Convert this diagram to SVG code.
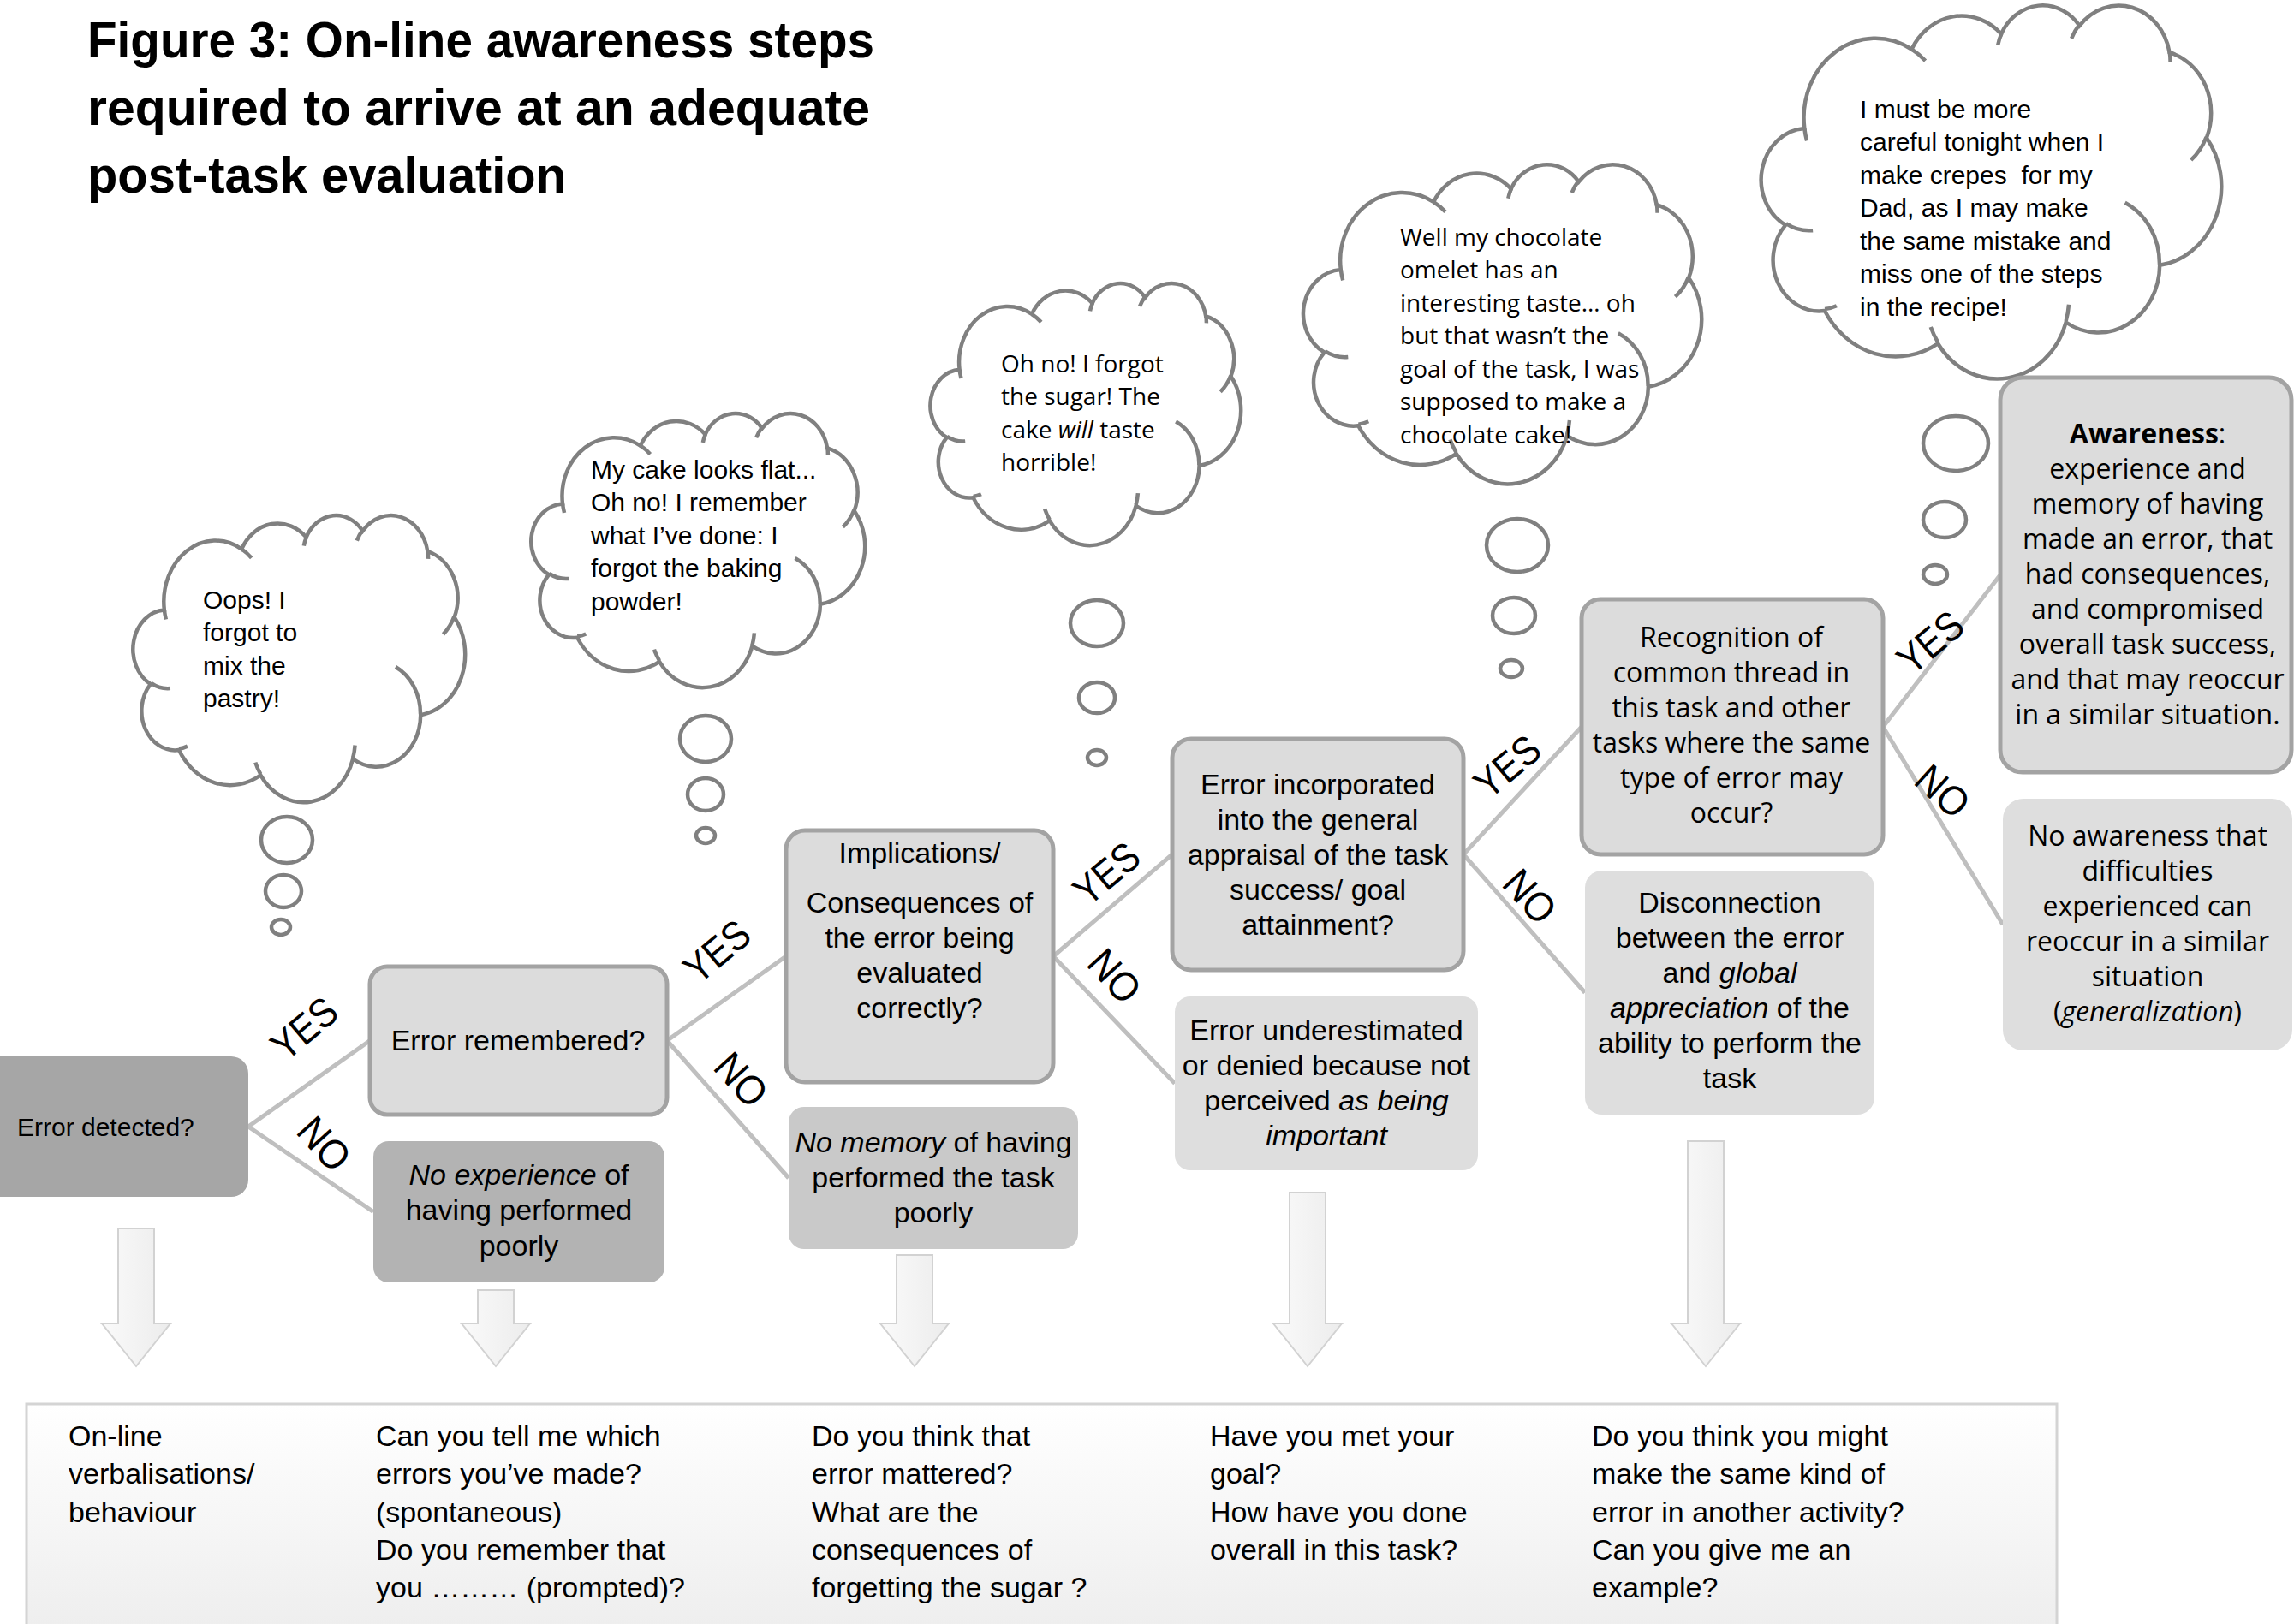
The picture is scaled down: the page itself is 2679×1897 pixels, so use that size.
<svg xmlns="http://www.w3.org/2000/svg" xmlns:xlink="http://www.w3.org/1999/xlink" width="2679" height="1897" viewBox="0 0 2679 1897">
<defs>
<style>
.t{font-family:"Liberation Sans",Arial,sans-serif;font-size:34px;fill:#000;text-anchor:middle}
.w{font-family:"Open Sans","Liberation Sans",sans-serif;font-size:32px;fill:#000;text-anchor:middle}
.q{font-family:"Liberation Sans",Arial,sans-serif;font-size:34px;fill:#000}
.cl{font-family:"Liberation Sans",Arial,sans-serif;font-size:30px;fill:#000}
.cw{font-family:"Open Sans","Liberation Sans",sans-serif;font-size:28px;fill:#000}
.lbl{font-family:"Liberation Sans",Arial,sans-serif;font-size:48px;fill:#000;text-anchor:middle}
.ttl{font-family:"Liberation Sans",Arial,sans-serif;font-size:60px;font-weight:bold;fill:#000}
.it{font-style:italic}
.b{font-weight:bold}
.n1{fill:#dcdcdc;stroke:#a3a3a3;stroke-width:5}
.n2{fill:#dedede}
.cloud{fill:#fff;stroke:#808080;stroke-width:4.5;vector-effect:non-scaling-stroke}
.stub{fill:none;stroke:#808080;stroke-width:4.5;vector-effect:non-scaling-stroke}
.bub{fill:#fff;stroke:#808080;stroke-width:4.5}
.con{stroke:#bfbfbf;stroke-width:5;fill:none}
.arr{fill:url(#ag);stroke:#d2d2d2;stroke-width:2}
</style>
<linearGradient id="ag" x1="0" y1="0" x2="1" y2="0">
<stop offset="0" stop-color="#fafafa"/><stop offset="1" stop-color="#ececec"/>
</linearGradient>
<linearGradient id="bg" x1="0" y1="0" x2="0" y2="1">
<stop offset="0" stop-color="#ffffff"/><stop offset="1" stop-color="#ececec"/>
</linearGradient>
<path id="cloudShape" class="cloud" d="M9.03 33.26 A15.63 21.27 0 0 1 32.42 12.04 A12.34 16.82 0 0 1 51.98 7.94 A10.1 13.76 0 0 1 69.06 5.74 A11.24 15.27 0 0 1 88.7 12.9 A12.34 16.84 0 0 1 96.8 35.78 A15.68 21.34 0 0 1 86.58 69.91 A13.39 18.21 0 0 1 66.1 85.21 A15.63 21.33 0 0 1 38.15 90.89 A17.87 24.41 0 0 1 13.44 82.11 A10.09 13.7 0 0 1 4.89 59.14 A10.06 13.76 0 0 1 9.03 33.26 Z"/>
<path id="cloudStubs" class="stub" d="M10.86 60.59 A10.06 13.76 0 0 1 5 58.75 M16.04 80.78 A10.09 13.7 0 0 1 13.47 81.67 M38.14 90.49 A15.63 21.33 0 0 1 36.59 86.45 M66.73 80.44 A15.63 21.33 0 0 1 66.11 84.86 M79 53.13 A13.39 18.21 0 0 1 86.53 69.65 M96.75 35.54 A12.34 16.84 0 0 1 93.4 41.74 M88.71 12.56 A11.24 15.27 0 0 1 88.89 15.49 M67.31 9.15 A11.24 15.27 0 0 1 69.03 5.42 M51.25 10.93 A10.1 13.76 0 0 1 52.08 7.71 M32.41 12.02 A15.63 21.27 0 0 1 35.42 15.14 M9.55 36.55 A15.63 21.27 0 0 1 9.03 33.26"/>
</defs>
<rect width="2679" height="1897" fill="#fff"/>

<g id="title">
<text class="ttl" x="102" y="67" textLength="919" lengthAdjust="spacingAndGlyphs">Figure 3: On-line awareness steps</text>
<text class="ttl" x="102" y="146" textLength="914" lengthAdjust="spacingAndGlyphs">required to arrive at an adequate</text>
<text class="ttl" x="102" y="225" textLength="559" lengthAdjust="spacingAndGlyphs">post-task evaluation</text>
</g>

<g id="clouds">
<g id="cloud1">
<use xlink:href="#cloudShape" transform="translate(157,601) scale(3.86,3.35)"/>
<use xlink:href="#cloudStubs" transform="translate(157,601) scale(3.86,3.35)"/>
<ellipse class="bub" cx="335" cy="981" rx="30" ry="27"/>
<ellipse class="bub" cx="331" cy="1041" rx="21" ry="19"/>
<ellipse class="bub" cx="328" cy="1083" rx="11" ry="9"/>
<text class="cl" x="237" y="711">Oops! I</text>
<text class="cl" x="237" y="749">forgot to</text>
<text class="cl" x="237" y="788">mix the</text>
<text class="cl" x="237" y="826">pastry!</text>
</g>
<g id="cloud2">
<use xlink:href="#cloudShape" transform="translate(622,482) scale(3.88,3.2)"/>
<use xlink:href="#cloudStubs" transform="translate(622,482) scale(3.88,3.2)"/>
<ellipse class="bub" cx="824" cy="863" rx="30" ry="27"/>
<ellipse class="bub" cx="824" cy="928" rx="21" ry="19"/>
<ellipse class="bub" cx="824" cy="976" rx="11" ry="9"/>
<text class="cl" x="690" y="559">My cake looks flat...</text>
<text class="cl" x="690" y="597">Oh no! I remember</text>
<text class="cl" x="690" y="636">what I’ve done: I</text>
<text class="cl" x="690" y="674">forgot the baking</text>
<text class="cl" x="690" y="713">powder!</text>
</g>
<g id="cloud3">
<use xlink:href="#cloudShape" transform="translate(1088,330) scale(3.61,3.06)"/>
<use xlink:href="#cloudStubs" transform="translate(1088,330) scale(3.61,3.06)"/>
<ellipse class="bub" cx="1281" cy="728" rx="31" ry="27"/>
<ellipse class="bub" cx="1281" cy="815" rx="21" ry="18"/>
<ellipse class="bub" cx="1281" cy="885" rx="11" ry="9"/>
<text class="cw" x="1169" y="435">Oh no! I forgot</text>
<text class="cw" x="1169" y="473">the sugar! The</text>
<text class="cw" x="1169" y="512">cake <tspan class="it">will</tspan> taste</text>
<text class="cw" x="1169" y="550">horrible!</text>
</g>
<g id="cloud4">
<use xlink:href="#cloudShape" transform="translate(1524,191) scale(4.63,3.73)"/>
<use xlink:href="#cloudStubs" transform="translate(1524,191) scale(4.63,3.73)"/>
<ellipse class="bub" cx="1772" cy="637" rx="36" ry="31"/>
<ellipse class="bub" cx="1768" cy="719" rx="25" ry="21"/>
<ellipse class="bub" cx="1765" cy="781" rx="13" ry="10"/>
<text class="cw" x="1635" y="287">Well my chocolate</text>
<text class="cw" x="1635" y="325">omelet has an</text>
<text class="cw" x="1635" y="364">interesting taste… oh</text>
<text class="cw" x="1635" y="402">but that wasn’t the</text>
<text class="cw" x="1635" y="441">goal of the task, I was</text>
<text class="cw" x="1635" y="479">supposed to make a</text>
<text class="cw" x="1635" y="518">chocolate cake!</text>
</g>
<g id="cloud5">
<use xlink:href="#cloudShape" transform="translate(2059,5) scale(5.35,4.36)"/>
<use xlink:href="#cloudStubs" transform="translate(2059,5) scale(5.35,4.36)"/>
<ellipse class="bub" cx="2284" cy="518" rx="38" ry="32"/>
<ellipse class="bub" cx="2271" cy="607" rx="25" ry="21"/>
<ellipse class="bub" cx="2260" cy="671" rx="14" ry="11"/>
<text class="cl" x="2172" y="138">I must be more</text>
<text class="cl" x="2172" y="176">careful tonight when I</text>
<text class="cl" x="2172" y="215">make crepes&#160; for my</text>
<text class="cl" x="2172" y="253">Dad, as I may make</text>
<text class="cl" x="2172" y="292">the same mistake and</text>
<text class="cl" x="2172" y="330">miss one of the steps</text>
<text class="cl" x="2172" y="369">in the recipe!</text>
</g>
</g>

<g id="connectors">
<path class="con" d="M290 1316 L432 1215.5 M290 1316 L436 1415.5"/>
<path class="con" d="M779 1215.5 L918 1117 M779 1215.5 L921 1376"/>
<path class="con" d="M1230 1117 L1369 998 M1230 1117 L1372 1265.5"/>
<path class="con" d="M1709 998 L1847 849 M1709 998 L1851 1159.5"/>
<path class="con" d="M2199 849 L2336 671.5 M2199 849 L2339 1080"/>
<g id="labels">
<text class="lbl" transform="translate(355,1201) rotate(-40)" y="17" textLength="84" lengthAdjust="spacingAndGlyphs">YES</text>
<text class="lbl" transform="translate(379,1336) rotate(48)" y="17" textLength="66" lengthAdjust="spacingAndGlyphs">NO</text>
<text class="lbl" transform="translate(837,1111) rotate(-40)" y="17" textLength="84" lengthAdjust="spacingAndGlyphs">YES</text>
<text class="lbl" transform="translate(866,1261) rotate(48)" y="17" textLength="66" lengthAdjust="spacingAndGlyphs">NO</text>
<text class="lbl" transform="translate(1292,1020) rotate(-40)" y="17" textLength="84" lengthAdjust="spacingAndGlyphs">YES</text>
<text class="lbl" transform="translate(1302,1140) rotate(48)" y="17" textLength="66" lengthAdjust="spacingAndGlyphs">NO</text>
<text class="lbl" transform="translate(1760,895) rotate(-40)" y="17" textLength="84" lengthAdjust="spacingAndGlyphs">YES</text>
<text class="lbl" transform="translate(1787,1047) rotate(48)" y="17" textLength="66" lengthAdjust="spacingAndGlyphs">NO</text>
<text class="lbl" transform="translate(2254,750) rotate(-40)" y="17" textLength="84" lengthAdjust="spacingAndGlyphs">YES</text>
<text class="lbl" transform="translate(2269,924) rotate(42)" y="17" textLength="66" lengthAdjust="spacingAndGlyphs">NO</text>
</g>
<g id="arrows">
<path class="arr" d="M138 1435 H180 V1546 H199 L159 1596 L119 1546 H138 Z"/>
<path class="arr" d="M558 1507 H600 V1546 H619 L579 1596 L539 1546 H558 Z"/>
<path class="arr" d="M1047 1466 H1089 V1546 H1108 L1068 1596 L1028 1546 H1047 Z"/>
<path class="arr" d="M1506 1393 H1548 V1546 H1567 L1527 1596 L1487 1546 H1506 Z"/>
<path class="arr" d="M1971 1333 H2013 V1546 H2032 L1992 1596 L1952 1546 H1971 Z"/>
</g>
</g>

<g id="nodeA">
<rect x="-20" y="1234" width="310" height="164" rx="20" fill="#a6a6a6"/>
<text class="t" x="20" y="1327" style="text-anchor:start;font-size:30px">Error detected?</text>
</g>
<g id="nodeB">
<rect class="n1" x="432" y="1129" width="347" height="173" rx="20"/>
<text class="t" x="605" y="1227">Error remembered?</text>
</g>
<g id="nodeC">
<rect x="436" y="1333" width="340" height="165" rx="18" fill="#b3b3b3"/>
<text class="t" x="606" y="1384"><tspan class="it">No experience</tspan> of</text>
<text class="t" x="606" y="1425">having performed</text>
<text class="t" x="606" y="1467">poorly</text>
</g>
<g id="nodeD">
<rect class="n1" x="918" y="970" width="312" height="294" rx="22"/>
<text class="t" x="1074" y="1008">Implications/</text>
<text class="t" x="1074" y="1066">Consequences of</text>
<text class="t" x="1074" y="1107">the error being</text>
<text class="t" x="1074" y="1148">evaluated</text>
<text class="t" x="1074" y="1189">correctly?</text>
</g>
<g id="nodeE">
<rect x="921" y="1293" width="338" height="166" rx="18" fill="#c9c9c9"/>
<text class="t" x="1090" y="1346"><tspan class="it">No memory</tspan> of having</text>
<text class="t" x="1090" y="1387">performed the task</text>
<text class="t" x="1090" y="1428">poorly</text>
</g>
<g id="nodeF">
<rect class="n1" x="1369" y="863" width="340" height="270" rx="22"/>
<text class="t" x="1539" y="928">Error incorporated</text>
<text class="t" x="1539" y="969">into the general</text>
<text class="t" x="1539" y="1010">appraisal of the task</text>
<text class="t" x="1539" y="1051">success/ goal</text>
<text class="t" x="1539" y="1092">attainment?</text>
</g>
<g id="nodeG">
<rect class="n2" x="1372" y="1164" width="354" height="203" rx="18"/>
<text class="t" x="1549" y="1215">Error underestimated</text>
<text class="t" x="1549" y="1256">or denied because not</text>
<text class="t" x="1549" y="1297">perceived <tspan class="it">as being</tspan></text>
<text class="t" x="1549" y="1338"><tspan class="it">important</tspan></text>
</g>
<g id="nodeH">
<rect class="n1" x="1847" y="700" width="352" height="298" rx="22"/>
<text class="w" x="2022" y="756">Recognition of</text>
<text class="w" x="2022" y="797">common thread in</text>
<text class="w" x="2022" y="838">this task and other</text>
<text class="w" x="2022" y="879">tasks where the same</text>
<text class="w" x="2022" y="920">type of error may</text>
<text class="w" x="2022" y="961">occur?</text>
</g>
<g id="nodeI">
<rect class="n2" x="1851" y="1017" width="338" height="285" rx="20"/>
<text class="t" x="2020" y="1066">Disconnection</text>
<text class="t" x="2020" y="1107">between the error</text>
<text class="t" x="2020" y="1148">and <tspan class="it">global</tspan></text>
<text class="t" x="2020" y="1189"><tspan class="it">appreciation</tspan> of the</text>
<text class="t" x="2020" y="1230">ability to perform the</text>
<text class="t" x="2020" y="1271">task</text>
</g>
<g id="nodeJ">
<rect class="n1" x="2336" y="441" width="340" height="461" rx="26"/>
<text class="w" x="2508" y="518"><tspan class="b">Awareness</tspan>:</text>
<text class="w" x="2508" y="559">experience and</text>
<text class="w" x="2508" y="600">memory of having</text>
<text class="w" x="2508" y="641">made an error, that</text>
<text class="w" x="2508" y="682">had consequences,</text>
<text class="w" x="2508" y="723">and compromised</text>
<text class="w" x="2508" y="764">overall task success,</text>
<text class="w" x="2508" y="805">and that may reoccur</text>
<text class="w" x="2508" y="846">in a similar situation.</text>
</g>
<g id="nodeK">
<rect class="n2" x="2339" y="933" width="338" height="294" rx="24"/>
<text class="w" x="2508" y="988">No awareness that</text>
<text class="w" x="2508" y="1029">difficulties</text>
<text class="w" x="2508" y="1070">experienced can</text>
<text class="w" x="2508" y="1111">reoccur in a similar</text>
<text class="w" x="2508" y="1152">situation</text>
<text class="w" x="2508" y="1193">(<tspan class="it">generalization</tspan>)</text>
</g>

<g id="questions">
<rect x="31" y="1640" width="2371" height="290" fill="url(#bg)" stroke="#d4d4d4" stroke-width="3"/>
<text class="q" x="80" y="1689">On-line</text>
<text class="q" x="80" y="1733">verbalisations/</text>
<text class="q" x="80" y="1778">behaviour</text>
<text class="q" x="439" y="1689">Can you tell me which</text>
<text class="q" x="439" y="1733">errors you’ve made?</text>
<text class="q" x="439" y="1778">(spontaneous)</text>
<text class="q" x="439" y="1822">Do you remember that</text>
<text class="q" x="439" y="1866">you ……… (prompted)?</text>
<text class="q" x="948" y="1689">Do you think that</text>
<text class="q" x="948" y="1733">error mattered?</text>
<text class="q" x="948" y="1778">What are the</text>
<text class="q" x="948" y="1822">consequences of</text>
<text class="q" x="948" y="1866">forgetting the sugar ?</text>
<text class="q" x="1413" y="1689">Have you met your</text>
<text class="q" x="1413" y="1733">goal?</text>
<text class="q" x="1413" y="1778">How have you done</text>
<text class="q" x="1413" y="1822">overall in this task?</text>
<text class="q" x="1859" y="1689">Do you think you might</text>
<text class="q" x="1859" y="1733">make the same kind of</text>
<text class="q" x="1859" y="1778">error in another activity?</text>
<text class="q" x="1859" y="1822">Can you give me an</text>
<text class="q" x="1859" y="1866">example?</text>
</g>
</svg>
